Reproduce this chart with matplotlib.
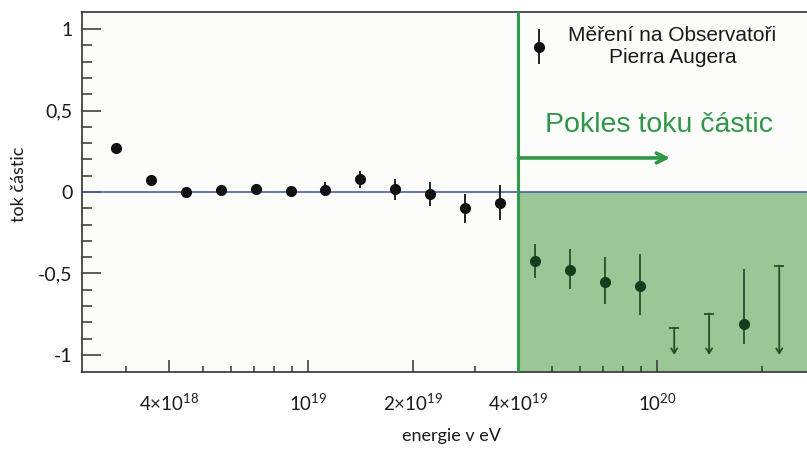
import matplotlib
matplotlib.use("Agg")
import matplotlib.pyplot as plt
from matplotlib.ticker import FixedLocator, FixedFormatter, NullFormatter
from matplotlib.legend_handler import HandlerErrorbar

plt.rcParams["mathtext.default"] = "regular"

# Energy bins (eV) and measured flux deviation
energy = [2.82e18, 3.55e18, 4.47e18, 5.62e18, 7.08e18, 8.91e18, 1.12e19, 1.41e19,
          1.78e19, 2.24e19, 2.82e19, 3.55e19, 4.47e19, 5.62e19, 7.08e19, 8.91e19,
          1.12e20, 1.41e20, 1.78e20, 2.24e20]
flux = [0.27, 0.074, 0.002, 0.012, 0.016, 0.008, 0.01, 0.078, 0.016, -0.01,
        -0.10, -0.065, -0.423, -0.477, -0.554, -0.58, None, None, -0.81, None]
err_low = [0.02, 0.02, 0.02, 0.02, 0.025, 0.025, 0.035, 0.055, 0.066, 0.078,
           0.09, 0.107, 0.107, 0.116, 0.133, 0.174, None, None, 0.123, None]
err_high = [0.02, 0.02, 0.02, 0.02, 0.03, 0.025, 0.053, 0.053, 0.064, 0.071,
            0.09, 0.108, 0.104, 0.129, 0.157, 0.199, None, None, 0.338, None]
# Upper limits for bins without a significant measurement
upper_limit = [None] * 16 + [-0.834, -0.746, None, -0.452]
ARROW_END = -1.0

SUPPRESSION_START = 4e19
XLIM = (2.25e18, 2.69e20)
YLIM = (-1.105, 1.105)

major_x = [4e18, 1e19, 2e19, 4e19, 1e20]
major_x_labels = ["4×10$^{18}$", "10$^{19}$", "2×10$^{19}$", "4×10$^{19}$", "10$^{20}$"]
minor_x = [3e18, 5e18, 6e18, 7e18, 8e18, 9e18, 3e19, 5e19, 6e19, 7e19, 8e19, 9e19, 2e20]
major_y = [-1, -0.5, 0, 0.5, 1]
major_y_labels = ["-1", "-0,5", "0", "0,5", "1"]
minor_y = [-0.9, -0.8, -0.7, -0.6, -0.4, -0.3, -0.2, -0.1,
           0.1, 0.2, 0.3, 0.4, 0.6, 0.7, 0.8, 0.9]

BLACK = "#111111"
DARK_GREEN = "#143d1d"
DARK_GREEN_BAR = "#254f2c"
FILL_GREEN = "#9ac795"
LINE_GREEN = "#2e9b4c"
TEXT_GREEN = "#2f9647"
ZERO_BLUE = "#4862a6"
SPINE = "#333333"

fig = plt.figure(figsize=(8.07, 4.5), dpi=100)
ax = fig.add_axes([82 / 807, 1 - 372 / 450, 1 - 82 / 807, 360 / 450])
ax.set_facecolor("#fcfcfb")
ax.set_xscale("log")
ax.set_xlim(*XLIM)
ax.set_ylim(*YLIM)

# Suppression region: shaded area below zero and boundary line
ax.fill_between([SUPPRESSION_START, XLIM[1]], YLIM[0], 0, color=FILL_GREEN, lw=0, zorder=1)
ax.axhline(0, color=ZERO_BLUE, lw=1.2, zorder=2)
ax.axvline(SUPPRESSION_START, color=LINE_GREEN, lw=2.2, zorder=3)

# Measured points
legend_handle = None
for e, f, lo, hi in zip(energy, flux, err_low, err_high):
    if f is None:
        continue
    inside = e > SUPPRESSION_START
    mc = DARK_GREEN if inside else BLACK
    bc = DARK_GREEN_BAR if inside else BLACK
    h = ax.errorbar([e], [f], yerr=[[lo], [hi]], fmt="o", ms=7.0, mfc=mc, mec=mc,
                    ecolor=bc, elinewidth=1.3, capsize=0, zorder=5)
    if legend_handle is None:
        legend_handle = h

# Upper limits drawn as capped downward arrows
for e, lim in zip(energy, upper_limit):
    if lim is None:
        continue
    ax.plot([e], [lim], marker="_", ms=6.5, mew=1.3, color=DARK_GREEN_BAR, zorder=5)
    ax.annotate("", xy=(e, ARROW_END), xytext=(e, lim),
                arrowprops=dict(arrowstyle="->,head_length=0.35,head_width=0.22",
                                color=DARK_GREEN_BAR, lw=1.3, shrinkA=0, shrinkB=0),
                zorder=5)

# Annotation of the flux suppression
ax.annotate("", xy=(1.09e20, 0.209), xytext=(SUPPRESSION_START, 0.209),
            arrowprops=dict(arrowstyle="->,head_length=0.7,head_width=0.35",
                            color=TEXT_GREEN, lw=2.6, shrinkA=0, shrinkB=0),
            zorder=4)
ax.text(0.6386, 0.686, "Pokles toku částic", transform=ax.transAxes,
        fontsize=20.5, color=TEXT_GREEN, family="Liberation Sans",
        ha="left", va="center")

# Legend
leg = ax.legend([legend_handle], ["Měření na Observatoři\nPierra Augera"],
                loc="upper left", bbox_to_anchor=(0.6075, 0.99),
                frameon=False, handlelength=0.6, handletextpad=1.1,
                borderpad=0, labelspacing=0.2,
                prop={"family": "Liberation Sans", "size": 15},
                handler_map={type(legend_handle): HandlerErrorbar(yerr_size=0.85)})
for t in leg.get_texts():
    t.set_multialignment("center")
    t.set_color("#1a1a1a")

# Axes styling
for side in ("left", "bottom", "top"):
    ax.spines[side].set_color(SPINE)
    ax.spines[side].set_linewidth(1.2)
ax.spines["right"].set_visible(False)

ax.xaxis.set_major_locator(FixedLocator(major_x))
ax.xaxis.set_major_formatter(FixedFormatter(major_x_labels))
ax.xaxis.set_minor_locator(FixedLocator(minor_x))
ax.xaxis.set_minor_formatter(NullFormatter())
ax.yaxis.set_major_locator(FixedLocator(major_y))
ax.yaxis.set_major_formatter(FixedFormatter(major_y_labels))
ax.yaxis.set_minor_locator(FixedLocator(minor_y))

ax.tick_params(axis="x", which="major", direction="in", length=8.5, width=1.1,
               color=SPINE, pad=15, labelsize=13.5, top=False)
ax.tick_params(axis="x", which="minor", direction="in", length=4.5, width=1.1,
               color=SPINE, top=False)
ax.tick_params(axis="y", which="major", direction="in", length=13.5, width=1.1,
               color=SPINE, pad=7, labelsize=14, right=False)
ax.tick_params(axis="y", which="minor", direction="in", length=7, width=1.1,
               color=SPINE, right=False)
for lbl in ax.get_xticklabels() + ax.get_yticklabels():
    lbl.set_family("Lato")
    lbl.set_color("#1a1a1a")

ax.set_xlabel("energie v eV", family="Lato", fontsize=13, color="#1a1a1a")
ax.set_ylabel("tok částic", family="Lato", fontsize=13, color="#1a1a1a")
ax.xaxis.set_label_coords(0.510, -0.156)
ax.yaxis.set_label_coords(-0.076, 0.522)

fig.savefig("out.png", dpi=100, facecolor="white")
